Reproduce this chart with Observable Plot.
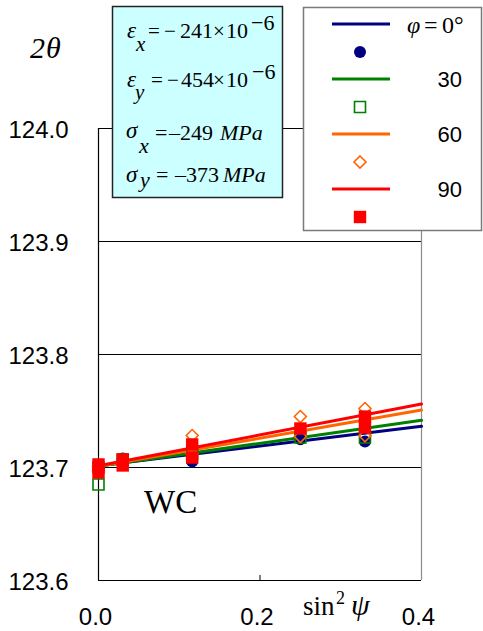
<!DOCTYPE html>
<html>
<head>
<meta charset="utf-8">
<script src="https://cdn.jsdelivr.net/npm/d3@7"></script>
<script src="https://cdn.jsdelivr.net/npm/@observablehq/plot@0.6"></script>
<style>
  html, body { margin: 0; padding: 0; background: #fff; }
  #chart { position: relative; width: 483px; height: 631px; }
  #chart svg { position: absolute; left: 0; top: 0; }
</style>
</head>
<body>
<div id="chart"></div>
<script>
// sin²ψ positions of the measurements
const sin2psi = [0, 0.03, 0.116, 0.25, 0.33];
// azimuth angles φ (deg)
const phiAngles = [0, 30, 60, 90];
// measured 2θ (deg) at each sin²ψ, one list per φ (several readings per position)
const twoTheta0 = [[123.699], [123.708], [123.7053], [123.725], [123.723]];
const twoTheta30 = [[123.685, 123.700], [123.707], [123.712], [123.7265], [123.7265]];
const twoTheta60 = [[123.701, 123.697], [123.704], [123.7283, 123.712], [123.7451, 123.7274], [123.7522, 123.728]];
const twoTheta90 = [[123.7027, 123.6956], [123.7071, 123.7018], [123.7204, 123.7088], [123.7345], [123.7451, 123.7354]];
// fitted 2θ–sin²ψ lines: values at sin²ψ = 0 and sin²ψ = 0.4
const fitAt0 = [123.7015, 123.701, 123.701, 123.7015];
const fitAt04 = [123.7365, 123.7418, 123.7508, 123.7562];
// axes
const xDomain = [0, 0.4];
const yDomain = [123.6, 124.0];
const xTicks = [0, 0.2, 0.4];
const yTicks = [123.6, 123.7, 123.8, 123.9, 124.0];
const seriesColors = ["#000080", "#008000", "#ff6600", "#ff0000"];
const legendLabels = ["0", "30", "60", "90"];

const series = [twoTheta0, twoTheta30, twoTheta60, twoTheta90];
const measured = phiAngles.flatMap((phi, i) =>
  series[i].flatMap((vals, j) => vals.map(v => ({phi, x: sin2psi[j], y: v}))));
const fits = phiAngles.flatMap((phi, i) => [
  {phi, x: xDomain[0], y: fitAt0[i]},
  {phi, x: xDomain[1], y: fitAt04[i]}
]);
const byPhi = phi => measured.filter(d => d.phi === phi);
const fmt = d3.format(".1f");

const plot = Plot.plot({
  width: 483,
  height: 631,
  marginLeft: 98,
  marginRight: 62,
  marginTop: 128,
  marginBottom: 51,
  style: {fontFamily: "'Liberation Sans', Arial, sans-serif", fontSize: "24px", color: "#000", background: "transparent"},
  x: {domain: xDomain},
  y: {domain: yDomain},
  color: {domain: phiAngles, range: seriesColors},
  marks: [
    Plot.gridY(yTicks.slice(1), {stroke: "#000", strokeOpacity: 1, strokeWidth: 1}),
    Plot.ruleX([xDomain[1]], {stroke: "#8c8c8c", strokeWidth: 1.2}),
    Plot.ruleX([xDomain[0]], {stroke: "#000", strokeWidth: 1.2}),
    Plot.ruleY([yDomain[0]], {stroke: "#000", strokeWidth: 1.2}),
    Plot.ruleX(xTicks.slice(1, -1), {y1: yDomain[0], y2: yDomain[0] + 0.0045, stroke: "#000"}),
    Plot.axisY({ticks: yTicks, tickSize: 0, tickPadding: 30, tickFormat: fmt, label: null, dy: 2}),
    Plot.axisX({ticks: xTicks, tickSize: 0, tickPadding: 27, tickFormat: fmt, label: null, dx: -3}),
    Plot.line(fits, {x: "x", y: "y", z: "phi", stroke: "phi", strokeWidth: 3}),
    Plot.dot(byPhi(0), {x: "x", y: "y", symbol: "circle", r: 6, fill: seriesColors[0], stroke: null}),
    Plot.dot(byPhi(30), {x: "x", y: "y", symbol: "square", r: 6.2, fill: "none", stroke: seriesColors[1], strokeWidth: 1.6}),
    Plot.dot(byPhi(60), {x: "x", y: "y", symbol: "diamond2", r: 5.4, fill: "none", stroke: seriesColors[2], strokeWidth: 1.6}),
    Plot.dot(byPhi(90), {x: "x", y: "y", symbol: "square", r: 7, fill: seriesColors[3], stroke: null})
  ]
});
document.getElementById("chart").appendChild(plot);

// annotations: axis titles, material label, strain/stress box and legend
const svg = d3.select("#chart").append("svg")
  .attr("width", 483).attr("height", 631)
  .style("pointer-events", "none");

const serif = "'Liberation Serif', 'Times New Roman', serif";
const sans = "'Liberation Sans', Arial, sans-serif";
function txt(x, y, s, o = {}) {
  return svg.append("text")
    .attr("x", x).attr("y", y)
    .attr("font-family", o.family || serif)
    .attr("font-size", o.size || 22)
    .attr("font-style", o.italic ? "italic" : "normal")
    .attr("text-anchor", o.anchor || "start")
    .attr("fill", "#000")
    .text(s);
}

// y-axis title 2θ
txt(30, 58, "2", {size: 30, italic: true});
txt(46, 58, "θ", {size: 30, italic: true});
// x-axis title sin²ψ
txt(303, 615, "sin", {size: 27});
txt(336, 604, "2", {size: 18});
txt(351, 615, "ψ", {size: 30, italic: true});
// material
txt(144, 513, "WC", {size: 33});

// strain / stress box
svg.append("rect").attr("x", 112.5).attr("y", 6.5).attr("width", 170).attr("height", 191)
  .attr("fill", "#ccffff").attr("stroke", "#222").attr("stroke-width", 1.5);
// ε_x
txt(127, 38, "ε", {size: 23, italic: true});
txt(136, 51, "x", {size: 21, italic: true});
txt(148, 38, "=", {size: 21});
txt(164, 38, "−", {size: 21});
txt(180, 38, "241", {size: 22});
txt(213, 38, "×", {size: 21});
txt(226, 38, "10", {size: 22});
txt(251, 30, "−6", {size: 22});
// ε_y
txt(127, 87, "ε", {size: 23, italic: true});
txt(135, 99, "y", {size: 21, italic: true});
txt(151, 87, "=", {size: 21});
txt(167, 87, "−", {size: 21});
txt(181, 87, "454", {size: 22});
txt(213, 87, "×", {size: 21});
txt(226, 87, "10", {size: 22});
txt(252, 79, "−6", {size: 22});
// σ_x
txt(126, 138, "σ", {size: 23, italic: true});
txt(139, 153, "x", {size: 22, italic: true});
txt(155, 140, "=", {size: 22});
txt(169, 140, "–249", {size: 22});
txt(220, 140, "MPa", {size: 22, italic: true});
// σ_y
txt(126, 182, "σ", {size: 23, italic: true});
txt(140, 187, "y", {size: 22, italic: true});
txt(156, 182, "=", {size: 22});
txt(175, 182, "–373", {size: 22});
txt(223, 182, "MPa", {size: 22, italic: true});

// legend
svg.append("rect").attr("x", 303.5).attr("y", 7.5).attr("width", 178).attr("height", 223)
  .attr("fill", "#fff").attr("stroke", "#7a7a7a").attr("stroke-width", 1.5);
const legendSymbols = [
  {type: d3.symbolCircle, r: 6, fill: seriesColors[0], stroke: "none"},
  {type: d3.symbolSquare, r: 6.2, fill: "none", stroke: seriesColors[1]},
  {type: d3.symbolDiamond2, r: 5.4, fill: "none", stroke: seriesColors[2]},
  {type: d3.symbolSquare, r: 7, fill: seriesColors[3], stroke: "none"}
];
phiAngles.forEach((phi, i) => {
  const yLine = 24 + i * 55;
  const ySym = 52 + i * 55;
  svg.append("line").attr("x1", 332).attr("x2", 390).attr("y1", yLine).attr("y2", yLine)
    .attr("stroke", seriesColors[i]).attr("stroke-width", 3);
  const s = legendSymbols[i];
  svg.append("path")
    .attr("d", d3.symbol().type(s.type).size(Math.PI * s.r * s.r)())
    .attr("transform", `translate(360,${ySym})`)
    .attr("fill", s.fill).attr("stroke", s.stroke).attr("stroke-width", 1.6);
  if (i === 0) {
    txt(407, 33, "φ", {size: 24, italic: true});
    txt(424, 33, "=", {size: 24});
    txt(442, 33, legendLabels[0] + "°", {size: 24});
  } else {
    txt(462, yLine + 8, legendLabels[i], {family: sans, size: 22, anchor: "end"});
  }
});
</script>
</body>
</html>
